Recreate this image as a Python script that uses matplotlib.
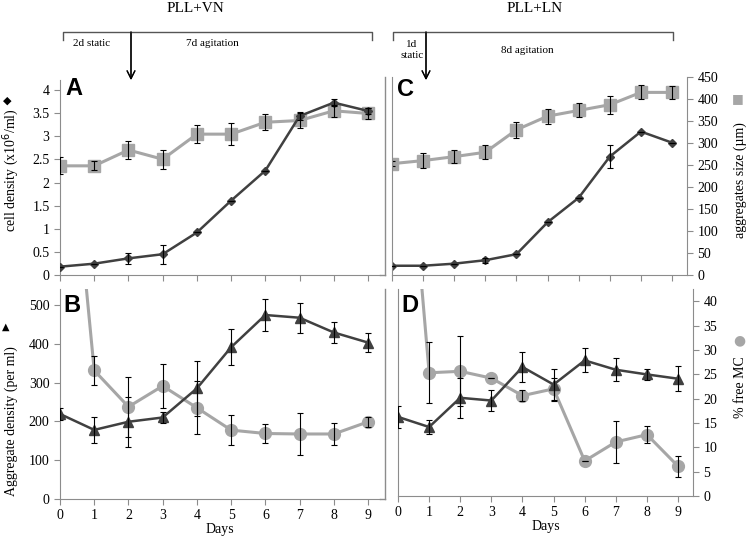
import matplotlib
matplotlib.use("Agg")
import matplotlib.pyplot as plt
from matplotlib.lines import Line2D

plt.rcParams['font.family'] = ['Liberation Serif', 'DejaVu Serif']

days = list(range(10))

# panel A (PLL+VN): cell density (x10^6/ml) and aggregate size (um)
a_cells = [0.18, 0.245, 0.36, 0.45, 0.92, 1.61, 2.26, 3.44, 3.73, 3.55]
a_cells_err = [0, 0, 0.12, 0.21, 0, 0, 0, 0.08, 0.08, 0.06]
a_size = [248, 248, 284, 263, 320, 320, 347, 351, 373, 367]
a_size_err = [19, 10, 21, 22, 21, 25, 18, 16, 14, 13]

# panel C (PLL+LN)
c_cells = [0.2, 0.2, 0.245, 0.32, 0.45, 1.14, 1.67, 2.56, 3.10, 2.86]
c_cells_err = [0, 0, 0, 0.05, 0, 0, 0, 0.25, 0, 0]
c_size = [253, 260, 269, 279, 330, 361, 374, 387, 415, 415]
c_size_err = [6, 17, 15, 16, 18, 17, 16, 20, 16, 15]

# panel B (PLL+VN): aggregate density (per ml) and % free MC
b_agg = [219, 178, 199, 210, 285, 391, 474, 467, 429, 403]
b_agg_err = [15, 34, 64, 15, 70, 46, 40, 39, 28, 24]
b_free = [100, 26.5, 19.0, 23.3, 18.8, 14.2, 13.5, 13.4, 13.4, 15.9]
b_free_err = [0, 3.0, 6.2, 4.6, 5.5, 3.1, 2.0, 4.4, 2.2, 1.1]

# panel D (PLL+LN)
d_agg = [203, 177, 252, 245, 331, 286, 348, 324, 312, 301]
d_agg_err = [28, 18, 51, 27, 38, 41, 31, 29, 14, 32]
d_free = [100, 25.3, 25.6, 24.2, 20.6, 22.0, 7.2, 11.1, 12.6, 6.1]
d_free_err = [0, 6.3, 7.2, 0, 1.1, 2.3, 0, 4.4, 1.7, 2.1]

W, H = 748, 541
DARK = '#404040'
LIGHT = '#a6a6a6'
SPINE = '#8c8c8c'

fig = plt.figure(figsize=(W / 100, H / 100), dpi=100)


def rect(l, t, r, b):
    return [l / W, 1 - b / H, (r - l) / W, (b - t) / H]


def fpos(x, y):
    return x / W, 1 - y / H


def style(ax, left=True, right=False, bottom_labels=False):
    for s in ['top', 'right', 'left', 'bottom']:
        ax.spines[s].set_visible(False)
    ax.spines['bottom'].set_visible(True)
    ax.spines['bottom'].set_color(SPINE)
    ax.tick_params(axis='x', direction='out', length=4, color=SPINE,
                   labelbottom=bottom_labels, labelsize=10, pad=3)
    ax.set_xticks(days)
    if left:
        ax.spines['left'].set_visible(True)
        ax.spines['left'].set_color(SPINE)
    ax.patch.set_visible(False)


def series(ax, y, err, marker, color, ms, lw):
    ax.plot(days, y, color=color, marker=marker, ms=ms, lw=lw,
            markeredgecolor=color, zorder=2, clip_on=True)
    ax.errorbar(days, y, yerr=err, fmt='none', ecolor='black',
                elinewidth=0.8, capsize=2.5, capthick=0.8, zorder=3)


# ---- A ----
axA = fig.add_axes(rect(60, 80, 380, 275))
axA2 = axA.twinx()
style(axA)
axA.set_xlim(0, 9.35)
axA.set_ylim(0, 4.22)
axA.set_yticks([0, 0.5, 1, 1.5, 2, 2.5, 3, 3.5, 4])
axA.set_yticklabels(['0', '0.5', '1', '1.5', '2', '2.5', '3', '3.5', '4'])
axA.tick_params(axis='y', direction='out', length=4, color=SPINE, labelsize=10)
axA2.set_ylim(0, 443)
axA2.axis('off')
series(axA2, a_size, a_size_err, 's', LIGHT, 8, 2.2)
series(axA2, a_cells_scaled := [v * 443 / 4.22 for v in a_cells],
       [e * 443 / 4.22 for e in a_cells_err], 'D', DARK, 4.5, 1.8)

# ---- C ----
axC = fig.add_axes(rect(392, 77, 687, 275))
axC2 = axC.twinx()
style(axC)
axC.set_xlim(0, 9.48)
axC.set_ylim(0, 4.28)
axC.set_yticks([])
axC2.set_ylim(0, 450)
for s in ['top', 'left', 'bottom']:
    axC2.spines[s].set_visible(False)
axC2.spines['right'].set_color(SPINE)
axC2.set_yticks(range(0, 451, 50))
axC2.tick_params(axis='y', direction='out', length=4, color=SPINE, labelsize=10)
series(axC2, c_size, c_size_err, 's', LIGHT, 8, 2.2)
series(axC, c_cells, c_cells_err, 'D', DARK, 4.5, 1.8)
axC.set_zorder(axC2.get_zorder() + 1)

# ---- B ----
axB = fig.add_axes(rect(60, 289, 380, 499))
axB2 = axB.twinx()
style(axB, bottom_labels=True)
axB.set_xlim(0, 9.35)
axB.set_ylim(0, 541)
axB.set_yticks(range(0, 501, 100))
axB.tick_params(axis='y', direction='out', length=4, color=SPINE, labelsize=10)
axB2.set_ylim(0, 541 * 0.08)
axB2.axis('off')
series(axB2, b_free, b_free_err, 'o', LIGHT, 8.5, 2.2)
series(axB, b_agg, b_agg_err, '^', DARK, 7.5, 1.8)
axB.set_zorder(axB2.get_zorder() + 1)
axB.set_xlabel('Days', fontsize=10, labelpad=1)

# ---- D ----
axD = fig.add_axes(rect(398, 289, 693, 496))
axD2 = axD.twinx()
style(axD, bottom_labels=True)
axD.set_xlim(0, 9.48)
axD.set_ylim(0, 42.5 * 12.5)
axD.set_yticks([])
axD2.set_ylim(0, 42.5)
for s in ['top', 'left', 'bottom']:
    axD2.spines[s].set_visible(False)
axD2.spines['right'].set_color(SPINE)
axD2.set_yticks(range(0, 41, 5))
axD2.tick_params(axis='y', direction='out', length=4, color=SPINE, labelsize=10)
series(axD2, d_free, d_free_err, 'o', LIGHT, 8.5, 2.2)
series(axD, d_agg, d_agg_err, '^', DARK, 7.5, 1.8)
axD.set_zorder(axD2.get_zorder() + 1)
axD.set_xlabel('Days', fontsize=10, labelpad=1)

# chart-area borders between panels
for (x0, y0, x1, y1) in [(380, 275, 385, 275), (385, 77, 385, 275),
                         (380, 499, 385, 499), (385, 289, 385, 499)]:
    fig.add_artist(Line2D([x0 / W, x1 / W], [1 - y0 / H, 1 - y1 / H],
                          color=SPINE, lw=1))

# panel letters
for letter, (x, y) in zip('ABCD', [(74, 88), (72, 305), (405, 90), (410, 305)]):
    fig.text(*fpos(x, y), letter, fontsize=17, fontweight='bold',
             family='Liberation Sans', ha='center', va='center')

# axis labels with series symbols
fig.text(*fpos(11, 170), 'cell density (x10$^6$/ml)', rotation=90,
         ha='center', va='center', fontsize=10)
fig.text(*fpos(7, 101), '\u25c6', ha='center', va='center', fontsize=8,
         family='DejaVu Sans')
fig.text(*fpos(11, 421), 'Aggregate density (per ml)', rotation=90,
         ha='center', va='center', fontsize=10)
fig.text(*fpos(6, 327), '\u25b2', ha='center', va='center', fontsize=7,
         family='DejaVu Sans')
fig.text(*fpos(740, 180), 'aggregates size (\u00b5m)', rotation=90,
         ha='center', va='center', fontsize=10)
fig.text(*fpos(738, 99), '\u25a0', ha='center', va='center', fontsize=9,
         color=LIGHT, family='DejaVu Sans')
fig.text(*fpos(740, 387), '% free MC', rotation=90,
         ha='center', va='center', fontsize=10)
fig.text(*fpos(739, 340), '\u25cf', ha='center', va='center', fontsize=10,
         color=LIGHT, family='DejaVu Sans')

# top annotations: culture conditions
fig.text(*fpos(195, 9), 'PLL+VN', ha='center', va='center', fontsize=11)
fig.text(*fpos(535, 9), 'PLL+LN', ha='center', va='center', fontsize=11)
for (l, r) in [(63, 372), (393, 673)]:
    xs = [l / W, l / W, r / W, r / W]
    ys = [1 - 40 / H, 1 - 32 / H, 1 - 32 / H, 1 - 40 / H]
    fig.add_artist(Line2D(xs, ys, color='#555555', lw=1))
for x in [131, 426]:
    fig.add_artist(plt.annotate('', xy=fpos(x, 80), xytext=fpos(x, 32),
                                xycoords='figure fraction',
                                arrowprops=dict(arrowstyle='->', color='black',
                                                lw=0.9, mutation_scale=14,
                                                shrinkA=0, shrinkB=0)))
fig.text(*fpos(92, 44), '2d static', ha='center', va='center', fontsize=8)
fig.text(*fpos(212, 44), '7d agitation', ha='center', va='center', fontsize=8)
fig.text(*fpos(412, 50), '1d\nstatic', ha='center', va='center', fontsize=8,
         linespacing=1.4)
fig.text(*fpos(527, 50), '8d agitation', ha='center', va='center', fontsize=8)

fig.savefig('out.png', dpi=100)
